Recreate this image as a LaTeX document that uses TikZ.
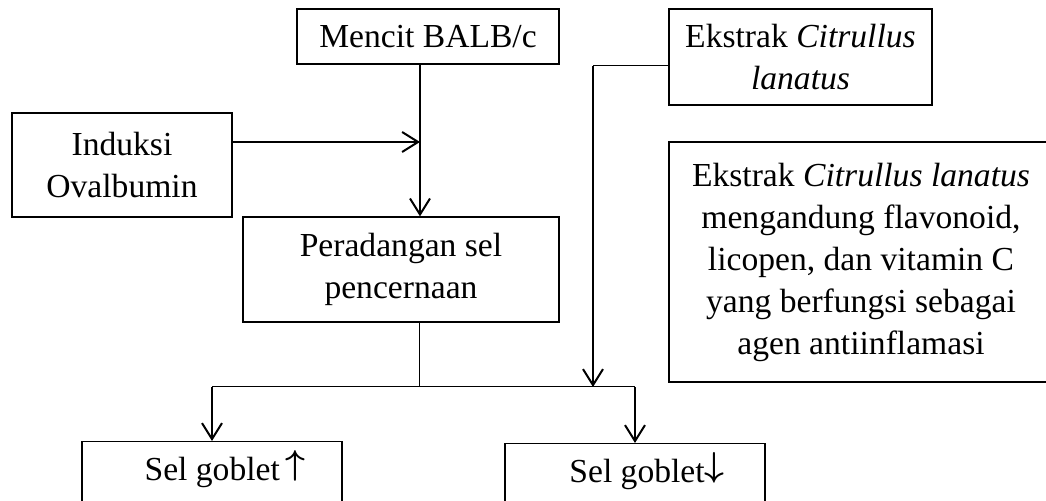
\documentclass[tikz,border=0pt]{standalone}
\usepackage{fontspec}
\setmainfont{Liberation Serif}
\usetikzlibrary{arrows.meta}

\begin{document}
\begin{tikzpicture}[x=0.5pt,y=-0.5pt,
	kotak/.style={draw, line width=0.6pt, inner sep=0pt, align=center, font=\fontsize{16.8}{21}\selectfont},
	panah/.style={line width=1pt, -{Straight Barb[length=8pt,width=10pt]}},
	garis/.style={line width=0.5pt}]

	\useasboundingbox (0,0) rectangle (1046,501);

	\node[kotak, minimum width=131pt, minimum height=27.5pt] (mencit) at (428,36.5) {Mencit BALB/c};
	\node[kotak, minimum width=110pt, minimum height=52pt] (induksi) at (122,165) {Induksi\\Ovalbumin};
	\node[kotak, minimum width=158pt, minimum height=52.5pt] (peradangan) at (401,269.5) {Peradangan sel\\pencernaan};
	\node[kotak, minimum width=131.5pt, minimum height=48pt] (ekstrak) at (800.5,57) {Ekstrak \textit{Citrullus}\\\textit{lanatus}};
	\node[kotak, minimum width=192pt, minimum height=120pt] (kandungan) at (861,262) {Ekstrak \textit{Citrullus lanatus}\\mengandung flavonoid,\\licopen, dan vitamin C\\yang berfungsi sebagai\\agen antiinflamasi};

	\node[kotak, anchor=north, minimum width=130pt, text height=19.5pt, text depth=20pt] (goblatas) at (212,441) {\hspace*{13pt}Sel goblet\,\raisebox{3pt}{\boldmath$\uparrow$}};
	\node[kotak, anchor=north, minimum width=130pt, text height=19.5pt, text depth=20pt] (goblawah) at (635,443) {\hspace*{12pt}Sel goblet\raisebox{3pt}{\boldmath$\downarrow$}};

	\coordinate (jalur) at (420,142);
	\coordinate (belok) at (593,66);
	\coordinate (cabang) at (419,387);
	\coordinate (temu) at (593,387);

	\draw[panah] (jalur |- mencit.south) -- (jalur |- peradangan.north);
	\draw[panah] (induksi.east |- jalur) -- (jalur);

	\draw[garis] (ekstrak.west |- belok) -- (belok);
	\draw[panah] (belok) -- (temu);

	\draw[garis] (peradangan.south -| cabang) -- (cabang);
	\draw[garis] (goblatas.north |- cabang) -- (goblawah.north |- cabang);
	\draw[panah] (goblatas.north |- cabang) -- (goblatas.north);
	\draw[panah] (goblawah.north |- cabang) -- (goblawah.north);
\end{tikzpicture}
\end{document}
